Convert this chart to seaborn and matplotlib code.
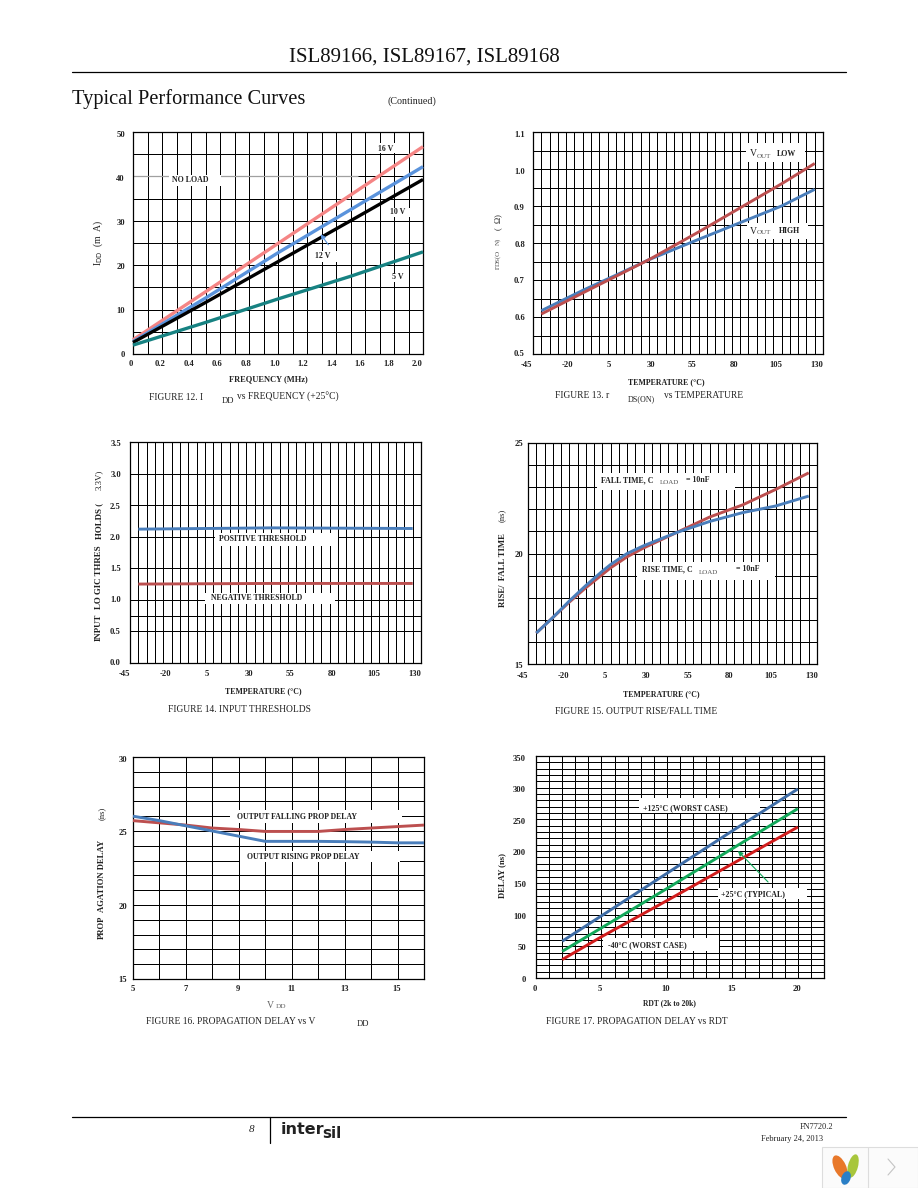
#!/usr/bin/env python3
import numpy as np
import pandas as pd
import matplotlib
matplotlib.use("Agg")
import matplotlib.pyplot as plt
import matplotlib.transforms as mtransforms
from matplotlib.patches import Rectangle, Ellipse
import seaborn as sns

W, H = 918, 1188
SERIF = "Liberation Serif"

# Figure 12: IDD vs frequency
freq = [0.0, 0.5, 1.0, 1.5, 2.0]
idd_16v = [3.2, 14.0, 24.9, 35.8, 46.7]
idd_12v = [2.8, 12.6, 22.8, 32.5, 42.2]
idd_10v = [2.6, 11.6, 20.8, 30.0, 39.3]
idd_5v = [2.0, 7.1, 12.4, 17.5, 23.0]

# Figure 13: rDS(ON) vs temperature
temp_rds = [-40, -15, 5, 25, 55, 80, 105, 125]
rds_low = [0.608, 0.665, 0.71, 0.755, 0.83, 0.895, 0.96, 1.015]
rds_high = [0.617, 0.672, 0.713, 0.755, 0.81, 0.855, 0.90, 0.945]

# Figure 14: input thresholds
temp_thr = [-40, 40, 125]
thr_pos = [2.12, 2.14, 2.13]
thr_neg = [1.25, 1.26, 1.26]

# Figure 15: rise/fall time
temp_rf = [-40, -30, -20, -10, 0, 5, 15, 25, 35, 45, 55, 65, 85, 105, 125]
t_fall = [16.4, 17.1, 17.8, 18.45, 19.05, 19.35, 19.85, 20.25, 20.6, 20.95, 21.3, 21.65, 22.2, 22.9, 23.65]
t_rise = [16.4, 17.1, 17.85, 18.55, 19.2, 19.5, 20.0, 20.35, 20.65, 20.95, 21.2, 21.45, 21.85, 22.15, 22.6]

# Figure 16: propagation delay vs VDD
vdd = [5, 6, 7, 8, 9, 10, 11, 12, 13, 14, 15, 16]
delay_fall = [25.7, 25.55, 25.4, 25.2, 25.1, 24.97, 24.97, 24.97, 25.1, 25.2, 25.3, 25.4]
delay_rise = [26.0, 25.7, 25.35, 25.0, 24.65, 24.3, 24.3, 24.3, 24.28, 24.25, 24.2, 24.2]

# Figure 17: delay vs RDT
rdt = [2, 5, 10, 15, 20]
delay_125 = [58, 98, 165, 232, 298]
delay_25 = [42, 79, 141, 204, 267]
delay_m40 = [29, 65, 122, 180, 238]

# axis tick labels
temp_ticks = [-45, -20, 5, 30, 55, 80, 105, 130]
temp_labels = ["-45", "-20", "5", "30", "55", "80", "105", "130"]

sns.set_theme(style="white", font=SERIF)
fig = plt.figure(figsize=(W / 100, H / 100), dpi=100, facecolor="white")

# page layer in reference pixel coords, for captions and the white label boxes
page = fig.add_axes([0, 0, 1, 1], zorder=5)
page.set_xlim(0, W)
page.set_ylim(H, 0)
page.axis("off")
page.patch.set_alpha(0)


def panel(box):
    l, t, r, b = box
    return fig.add_axes([l / W, 1 - b / H, (r - l) / W, (b - t) / H])


def draw_lines(ax, x, series, colors, lw=2.1):
    frames = []
    for name, vals in series.items():
        frames.append(pd.DataFrame({"x": x, "y": vals, "curve": name}))
    df = pd.concat(frames)
    sns.lineplot(data=df, x="x", y="y", hue="curve", palette=colors, legend=False,
                 errorbar=None, lw=lw, ax=ax, clip_on=False, solid_capstyle="butt", zorder=3)
    ax.set_xlabel("")
    ax.set_ylabel("")


def style_axes(ax, xlim, ylim, xticks, xlabels, xminor, yticks, ylabels, yminor,
               xshift=(0, 0), yshift=(0, 0), xpad=4, ypad=8):
    ax.set_xlim(*xlim)
    ax.set_ylim(*ylim)
    ax.set_xticks(xticks, xlabels)
    ax.set_yticks(yticks, ylabels)
    ax.set_xticks(xminor, minor=True)
    ax.set_yticks(yminor, minor=True)
    ax.set_axisbelow(True)
    ax.grid(True, which="both", color="black", lw=0.72)
    ax.tick_params(which="both", length=0)
    ax.tick_params(axis="x", pad=xpad * 0.72, labelsize=6.2, colors="#222222")
    ax.tick_params(axis="y", pad=ypad * 0.72, labelsize=6.2, colors="#222222")
    for s in ax.spines.values():
        s.set_visible(True)
        s.set_color("black")
        s.set_linewidth(0.9)
    # the labels in the reference sit a few pixels off their gridlines
    xl = ax.get_xticklabels()
    for i, lab in enumerate(xl):
        d = xshift[0] + (xshift[1] - xshift[0]) * i / (len(xl) - 1)
        lab.set_fontweight("bold")
        lab.set_transform(lab.get_transform() + mtransforms.ScaledTranslation(d / 100, 0, fig.dpi_scale_trans))
    yl = ax.get_yticklabels()
    for i, lab in enumerate(yl):
        d = yshift[0] + (yshift[1] - yshift[0]) * i / (len(yl) - 1)
        lab.set_fontweight("bold")
        lab.set_transform(lab.get_transform() + mtransforms.ScaledTranslation(0, -d / 100, fig.dpi_scale_trans))


def txt(x, y, s, size=6.85, ha="center", color="#222222", weight="normal", rot=0, **kw):
    page.text(x, y, s, fontsize=size, ha=ha, va="center", color=color, fontweight=weight,
              rotation=rot, **kw)


def note(x, y, s, size=5.7, ha="center"):
    txt(x, y, s, size=size, ha=ha, weight="bold")


def white_box(ax, x0, y0, x1, y1):
    ax.add_patch(Rectangle((x0, y0), x1 - x0, y1 - y0, transform=page.transData,
                           facecolor="white", edgecolor="none", zorder=1.5, clip_on=False))


# ---- Figure 12
ax1 = panel((133, 132, 423, 354))
draw_lines(ax1, freq, {"16V": idd_16v, "12V": idd_12v, "10V": idd_10v, "5V": idd_5v},
           ["#F58585", "#5A93DC", "#000000", "#178282"], lw=2.4)
style_axes(ax1, (0, 2.0), (0, 50), np.arange(0, 2.01, 0.2),
           ["0", "0.2", "0.4", "0.6", "0.8", "1.0", "1.2", "1.4", "1.6", "1.8", "2.0"],
           np.arange(0.1, 2.0, 0.2), np.arange(0, 51, 10), ["0", "10", "20", "30", "40", "50"],
           np.arange(5, 50, 10), xshift=(-1.7, -5.7), yshift=(0, 2.2), xpad=6)
ax1.hlines(40, 0, 1.55, color="#a0a0a0", lw=0.9, zorder=1.2)
white_box(ax1, 169, 175, 221, 186)
white_box(ax1, 373, 143, 400, 153)
white_box(ax1, 387, 208, 410, 217)
white_box(ax1, 312, 251, 337, 262)
white_box(ax1, 388, 274, 408, 282)
note(190, 180, "NO LOAD")
note(386, 149, "16 V")
note(398, 212, "10 V")
note(323, 256, "12 V")
note(398, 277, "5 V")
ax1.annotate("", xy=(319, 232), xytext=(330, 247), xycoords=page.transData, textcoords=page.transData,
             arrowprops=dict(arrowstyle="-|>", color="#5A93DC", lw=0.8, mutation_scale=7), zorder=4)
txt(98, 243, r"I$_{\mathrm{DD}}$  (m  A)", size=7, rot=90)
note(268, 379, "FREQUENCY (MHz)", size=6)
txt(149, 397, "FIGURE 12. I", ha="left")
txt(222, 401, "DD", ha="left", size=6.2)
txt(237, 397, "vs FREQUENCY (+25°C)", ha="left")

# ---- Figure 13
ax2 = panel((533, 132, 823, 354))
draw_lines(ax2, temp_rds, {"high": rds_high, "low": rds_low}, ["#4A7EBB", "#BC4F4F"])
style_axes(ax2, (-45, 130), (0.5, 1.1), temp_ticks, temp_labels, np.arange(-45, 131, 5),
           [0.5, 0.6, 0.7, 0.8, 0.9, 1.0, 1.1], ["0.5", "0.6", "0.7", "0.8", "0.9", "1.0", "1.1"],
           np.arange(0.55, 1.1, 0.1), xshift=(-7, -6), yshift=(-0.7, 2.3), xpad=7)
white_box(ax2, 746, 143, 805, 162)
white_box(ax2, 747, 223, 808, 239)
txt(753, 154, "V", size=7)
txt(764, 156, "OUT", size=5, color="#555555")
note(787, 154, "LOW")
txt(753, 231, "V", size=7)
txt(764, 233, "OUT", size=5, color="#555555")
note(789, 231, "HIGH")
txt(498, 268, "r", size=6, rot=90, color="#555555")
txt(498, 258, "DS(O", size=5, rot=90, color="#555555")
txt(498, 241, "N)", size=5, rot=90, color="#555555")
txt(498, 222, "(  Ω)", size=6, rot=90)
note(666, 382, "TEMPERATURE (°C)")
txt(555, 396, "FIGURE 13. r", ha="left")
txt(628, 399, "DS(ON)", ha="left", size=5.8)
txt(664, 396, "vs TEMPERATURE", ha="left")

# ---- Figure 14
ax3 = panel((130, 442, 421, 663))
draw_lines(ax3, temp_thr, {"pos": thr_pos, "neg": thr_neg}, ["#4A7EBB", "#BC4F4F"])
style_axes(ax3, (-45, 130), (0, 3.5), temp_ticks, temp_labels, np.arange(-45, 131, 5),
           [0, 0.5, 1, 1.5, 2, 2.5, 3, 3.5], ["0.0", "0.5", "1.0", "1.5", "2.0", "2.5", "3.0", "3.5"],
           [0.75], xshift=(-6, -6), yshift=(-1, 1), xpad=7, ypad=9)
white_box(ax3, 215, 533, 338, 546)
white_box(ax3, 205, 593, 335, 604)
note(263, 539, "POSITIVE THRESHOLD", size=5.6)
note(257, 598, "NEGATIVE THRESHOLD", size=5.6)
txt(99, 627, "INPUT", weight="bold", size=6.4, rot=90)
txt(99, 577, "LO GIC THRES", weight="bold", size=6.4, rot=90)
txt(99, 521, "HOLDS (", weight="bold", size=6.4, rot=90)
txt(99, 480, "3.3V)", size=6.4, rot=90)
note(263, 691, "TEMPERATURE (°C)")
txt(239, 709, "FIGURE 14. INPUT THRESHOLDS")

# ---- Figure 15
ax4 = panel((528, 443, 817, 664))
draw_lines(ax4, temp_rf, {"fall": t_fall, "rise": t_rise}, ["#BC4F4F", "#4A7EBB"])
style_axes(ax4, (-45, 130), (15, 25), temp_ticks, temp_labels, np.arange(-45, 131, 5),
           [15, 20, 25], ["15", "20", "25"], [y for y in range(15, 26) if y % 5],
           xshift=(-6, -5), yshift=(1, 0), xpad=8, ypad=5)
white_box(ax4, 597, 473, 735, 490)
white_box(ax4, 637, 562, 775, 580)
note(601, 480, "FALL TIME, C", ha="left")
txt(669, 482, "LOAD", size=5, color="#555555")
note(698, 480, "= 10nF")
note(642, 569, "RISE TIME, C", ha="left")
txt(708, 572, "LOAD", size=5, color="#555555")
note(748, 569, "= 10nF")
txt(503, 570, "RISE/  FALL TIME", weight="bold", size=6.2, rot=90)
txt(503, 515, "(ns)", size=6.2, rot=90)
note(661, 694, "TEMPERATURE (°C)")
txt(636, 711, "FIGURE 15. OUTPUT RISE/FALL TIME")

# ---- Figure 16
ax5 = panel((133, 757, 424, 979))
draw_lines(ax5, vdd, {"fall": delay_fall, "rise": delay_rise}, ["#BC4F4F", "#4A7EBB"])
style_axes(ax5, (5, 16), (15, 30), [5, 7, 9, 11, 13, 15], ["5", "7", "9", "11", "13", "15"],
           [6, 8, 10, 12, 14, 16], [15, 20, 25, 30], ["15", "20", "25", "30"],
           [y for y in range(15, 31) if y % 5], xshift=(-0.5, -0.5), yshift=(0, 2), xpad=6, ypad=6)
white_box(ax5, 230, 810, 402, 823)
white_box(ax5, 240, 851, 400, 862)
note(297, 817, "OUTPUT FALLING PROP DELAY", size=5.6)
note(303, 857, "OUTPUT RISING PROP DELAY", size=5.6)
txt(102, 927, "PROP", weight="bold", size=6.2, rot=90)
txt(102, 876, "AGATION DELAY", weight="bold", size=6.2, rot=90)
txt(103, 813, "(ns)", size=6.2, rot=90)
txt(270, 1005, "V", size=7, color="#666666")
txt(281, 1007, "DD", size=5.2, color="#666666")
txt(146, 1022, "FIGURE 16. PROPAGATION DELAY vs V", ha="left")
txt(357, 1024, "DD", ha="left", size=6.2)

# ---- Figure 17
ax6 = panel((536, 756, 824, 978))
draw_lines(ax6, rdt, {"125": delay_125, "25": delay_25, "-40": delay_m40},
           ["#3E6CA6", "#12A85A", "#D01C1C"])
style_axes(ax6, (0, 22), (0, 350), [0, 5, 10, 15, 20], ["0", "5", "10", "15", "20"],
           np.arange(1, 23), np.arange(0, 351, 50),
           ["0", "50", "100", "150", "200", "250", "300", "350"],
           [y for y in range(0, 351, 10) if y % 50], xshift=(-1.3, -1), yshift=(0.7, 1.7),
           xpad=7, ypad=10)
white_box(ax6, 639, 798, 760, 813)
white_box(ax6, 718, 888, 807, 899)
white_box(ax6, 603, 938, 719, 951)
note(685, 808, "+125°C (WORST CASE)")
note(753, 894, "+25°C (TYPICAL)")
note(647, 945, "-40°C (WORST CASE)")
ax6.annotate("", xy=(736, 849), xytext=(770, 884), xycoords=page.transData, textcoords=page.transData,
             arrowprops=dict(arrowstyle="-|>", color="#12A85A", lw=0.8, mutation_scale=7), zorder=4)
txt(502, 875, "DELAY (ns)", weight="bold", size=6.2, rot=90)
note(669, 1003, "RDT (2k to 20k)", size=5.5)
txt(637, 1022, "FIGURE 17. PROPAGATION DELAY vs RDT")

# ---- page furniture
txt(424, 57, "ISL89166, ISL89167, ISL89168", size=15, color="#111111")
txt(72, 99, "Typical Performance Curves", size=14.7, ha="left", color="#111111")
txt(412, 101, "(Continued)", size=7.2)
page.plot([72, 846], [72, 72], color="black", lw=0.9)
page.plot([72, 846], [1117, 1117], color="black", lw=0.9)
page.plot([270, 270], [1117, 1143], color="black", lw=0.9)
txt(252, 1129, "8", size=8, style="italic")
page.text(281, 1130, "inter", fontsize=11.5, family="DejaVu Sans", fontweight="bold", va="center", color="#222222")
page.text(322, 1134, "sil", fontsize=11, family="DejaVu Sans", fontweight="bold", va="center", color="#222222")
txt(833, 1127, "FN7720.2", size=6, ha="right")
txt(823, 1139, "February 24, 2013", size=6, ha="right")

# bottom-right widget with the leaf icon and chevron
page.add_patch(Rectangle((822, 1147), 96, 41, facecolor="#fbfbfb", edgecolor="#dddddd", lw=0.8))
page.plot([868, 868], [1147, 1188], color="#dddddd", lw=0.8)
page.add_patch(Ellipse((840, 1167), 12, 25, angle=-25, facecolor="#E8782A", edgecolor="none"))
page.add_patch(Ellipse((853, 1166), 10, 24, angle=15, facecolor="#A8C63C", edgecolor="none"))
page.add_patch(Ellipse((846, 1178), 9, 14, angle=20, facecolor="#2A7FC6", edgecolor="none"))
page.plot([888, 895, 888], [1159, 1167, 1175], color="#c4c4c4", lw=0.8)

fig.savefig("out.png", dpi=100)
